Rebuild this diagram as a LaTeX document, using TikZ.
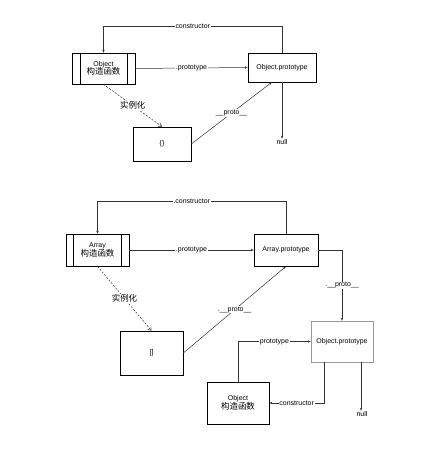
\documentclass[tikz,border=0pt]{standalone}
\usepackage{fontspec}
\setmainfont{Liberation Sans}
\newfontfamily\cjk{Noto Sans CJK SC}
\usetikzlibrary{arrows.meta}
\begin{document}
\begin{tikzpicture}[x=1bp,y=-1bp,
  box/.style={draw=black,line width=0.6bp,rectangle,inner sep=0pt,align=center,font=\fontsize{7}{8}\selectfont},
  gbox/.style={box,draw=black!40},
  conn/.style={draw=black!80,line width=0.5bp},
  arr/.style={conn,-{Stealth[length=3bp,width=2.4bp]}},
  darr/.style={conn,dashed,dash pattern=on 2bp off 1.5bp,-{Straight Barb[length=3bp,width=4bp]}},
  lbl/.style={fill=white,inner sep=0.8bp,font=\fontsize{7}{8}\selectfont},
  clbl/.style={fill=white,inner sep=0.8bp,font=\cjk\fontsize{8.5}{9}\selectfont},
  txt/.style={inner sep=0.5bp,font=\fontsize{7}{8}\selectfont}]
\useasboundingbox (0,0) rectangle (426,464);
\fill[white] (0,0) rectangle (426,464);
% ---------- top diagram ----------
\node[box,minimum width=63bp,minimum height=31bp] (objF) at (103.5,68.5) {Object\\[-1bp]{\cjk\fontsize{8.5}{9}\selectfont 构造函数}};
\draw[line width=0.6bp] ([xshift=9bp]objF.north west) -- ([xshift=9bp]objF.south west);
\draw[line width=0.6bp] ([xshift=-8bp]objF.north east) -- ([xshift=-8bp]objF.south east);
\node[box,minimum width=68bp,minimum height=29bp] (objP) at (282,67.5) {Object.prototype};
\node[box,minimum width=58bp,minimum height=34bp] (emp) at (162,144) {\{\}};
\node[txt] (null1) at (282,142) {null};
\coordinate (t1) at (282,26);
\coordinate (t2) at (103.5,26);
\draw[arr] (objP.north) -- (t1) -- node[lbl]{constructor} (t2) -- (objF.north);
\draw[arr] (objF.east) -- node[lbl]{.prototype} (objP.west);
\draw[darr] (objF.south) -- node[clbl]{实例化} (emp.north);
\coordinate (p1) at ([xshift=24bp]objP.south west);
\draw[arr] (emp.east) -- node[lbl,pos=0.5]{\_\_proto\_\_} (p1);
\draw[arr] (objP.south) -- (null1.north);
% ---------- bottom diagram ----------
\node[box,minimum width=63bp,minimum height=32bp] (arrF) at (97.5,250) {Array\\[-1bp]{\cjk\fontsize{8.5}{9}\selectfont 构造函数}};
\draw[line width=0.6bp] ([xshift=8bp]arrF.north west) -- ([xshift=8bp]arrF.south west);
\draw[line width=0.6bp] ([xshift=-8bp]arrF.north east) -- ([xshift=-8bp]arrF.south east);
\node[box,minimum width=64bp,minimum height=32bp] (arrP) at (286,250) {Array.prototype};
\node[box,minimum width=63bp,minimum height=44bp] (empA) at (151.5,353) {[]};
\node[gbox,minimum width=62bp,minimum height=41bp] (objP2) at (342,341.5) {Object.prototype};
\node[box,minimum width=62bp,minimum height=42bp] (objF2) at (238,403) {Object\\[-1bp]{\cjk\fontsize{8.5}{9}\selectfont 构造函数}};
\node[txt] (null2) at (362,414) {null};
\coordinate (b1) at (286,201);
\coordinate (b2) at (97.5,201);
\draw[arr] (arrP.north) -- (b1) -- node[lbl]{.constructor} (b2) -- (arrF.north);
\draw[arr] (arrF.east) -- node[lbl]{.prototype} (arrP.west);
\draw[darr] (arrF.south) -- node[clbl]{实例化} (empA.north);
\draw[arr] (empA.east) -- node[lbl]{.\_\_proto\_\_} (arrP.south);
\coordinate (r1) at (342,250);
\draw[arr] (arrP.east) -- (r1) -- node[lbl,pos=0.5]{.\_\_proto\_\_} (objP2.north);
\coordinate (q1) at (238,341.5);
\draw[arr] (objF2.north) -- (q1) -- node[lbl]{prototype} (objP2.west);
\coordinate (s1) at (324,362);
\coordinate (s2) at (324,403);
\draw[arr] (s1) -- (s2) -- node[lbl]{constructor} (objF2.east);
\coordinate (n1) at (361,362);
\draw[arr] (n1) -- (null2.north -| n1);
\end{tikzpicture}
\end{document}
